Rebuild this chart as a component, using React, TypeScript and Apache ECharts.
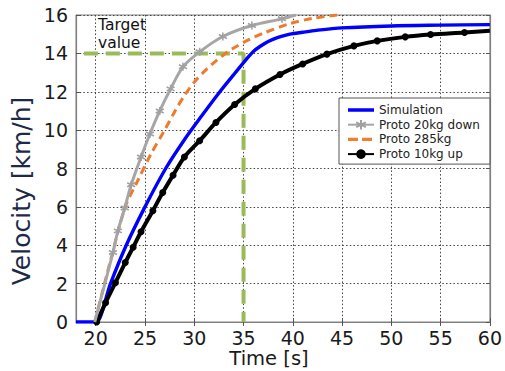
import React, { useEffect, useRef } from "react";
import * as echarts from "echarts";

// ---- data ----
const xTicks = [20, 25, 30, 35, 40, 45, 50, 55, 60];
const yTicks = [0, 2, 4, 6, 8, 10, 12, 14, 16];

const simT = [18, 20, 20.1, 21.5, 23.1, 25, 27.1, 29, 30.55, 32.6, 34.1, 35.3, 36.0, 36.7, 37.5, 38.5, 39.7, 41, 42.4, 45, 50, 55, 60];
const simV = [0, 0, 0, 2, 4, 6, 8, 9.5, 10.6, 12, 12.95, 13.7, 14.1, 14.37, 14.62, 14.83, 15.0, 15.1, 15.2, 15.33, 15.43, 15.47, 15.5];

const grayT = [19.9, 21.75, 22.25, 22.94, 23.6, 24.6, 25.5, 26.5, 27.6, 28.85, 30.55, 32.9, 35.85, 38.9, 40.3];
const grayV = [0, 3.62, 4.75, 5.94, 7.15, 8.6, 9.8, 11.0, 12.15, 13.3, 14.08, 14.88, 15.45, 15.8, 16];

const orangeT = [19.9, 21.4, 23.0, 24.3, 25.6, 27, 28, 29, 30, 31, 32, 33, 34, 35.5, 37, 39.7, 42, 44.5];
const orangeV = [0, 3, 6, 7.4, 8.75, 10, 10.95, 11.8, 12.5, 13.05, 13.52, 13.93, 14.28, 14.7, 15.05, 15.55, 15.82, 16];

const blackT = [20.1, 21, 22, 23, 23.8, 24.6, 25.8, 26.8, 27.85, 29.0, 30.55, 32.2, 34.1, 36.2, 38.7, 41.0, 43.46, 46.2, 48.57, 51.41, 53.98, 57.42, 60];
const blackV = [0, 1.0, 2.05, 3.1, 3.9, 4.7, 5.8, 6.75, 7.65, 8.6, 9.45, 10.4, 11.34, 12.15, 12.9, 13.45, 13.96, 14.39, 14.65, 14.86, 14.98, 15.09, 15.18];

const targetT = [18.8, 35, 35];
const targetV = [14, 14, 0];

const names = ["Simulation", "Proto 20kg down", "Proto 285kg", "Proto 10kg up"];

const FONT = "DejaVu Sans";

const pairs = (t: number[], v: number[], hideEnds = false, hideLast = false) =>
  t.map((x, i) => {
    const item: any = { value: [x, v[i]] };
    if ((hideEnds && (i === 0 || i === t.length - 1)) || (hideLast && i === t.length - 1)) item.symbol = "none";
    return item;
  });

const STAR = "path://M4,0L4,8M0.5,2L7.5,6M7.5,2L0.5,6";
// legend icons: tiny corner dots keep the bounding box at 26x12
const CORNERS = "M0,0h0.01v0.01h-0.01zM26,12h-0.01v-0.01h0.01z";
const SOLID_ICON = "path://" + CORNERS + "M0,4.3h26v3.4h-26z";
const DASH_ICON = "path://" + CORNERS + "M0,4.4h10v3.2h-10zM14,4.4h10v3.2h-10z";

export default function App() {
  const ref = useRef<HTMLDivElement>(null);
  useEffect(() => {
    const chart = echarts.init(ref.current!, null, { renderer: "svg" });
    const gridLine = { show: true, lineStyle: { color: "#444", type: [1.5, 2.2], width: 1 } };
    chart.setOption({
      animation: false,
      backgroundColor: "#fff",
      grid: { left: 76, right: 15, top: 15, bottom: 49, show: true, borderColor: "#808080", borderWidth: 1, backgroundColor: "transparent" },
      xAxis: [
        {
          type: "value",
          min: 18,
          max: 60,
          axisLine: { show: true, lineStyle: { color: "#808080", width: 1.2 } },
          axisTick: { show: true, inside: true, length: 4, customValues: xTicks, lineStyle: { color: "#555" } },
          axisLabel: { customValues: xTicks, fontFamily: FONT, fontSize: 19, color: "#1a1a1a", margin: 6 },
          splitLine: gridLine,
        },
        {
          type: "value",
          position: "top",
          min: 18,
          max: 60,
          axisLine: { show: true, lineStyle: { color: "#808080", width: 1.2 } },
          axisTick: { show: true, inside: true, length: 4, customValues: xTicks, lineStyle: { color: "#555" } },
          axisLabel: { show: false, customValues: xTicks },
          splitLine: { show: false },
        },
      ],
      yAxis: [
        {
          type: "value",
          min: yTicks[0],
          max: yTicks[yTicks.length - 1],
          interval: 2,
          axisLine: { show: true, lineStyle: { color: "#808080", width: 1.2 } },
          axisTick: { show: true, inside: true, length: 4, lineStyle: { color: "#555" } },
          axisLabel: { fontFamily: FONT, fontSize: 19, color: "#1a1a1a", margin: 8 },
          splitLine: gridLine,
        },
        {
          type: "value",
          position: "right",
          min: yTicks[0],
          max: yTicks[yTicks.length - 1],
          interval: 2,
          axisLine: { show: true, lineStyle: { color: "#808080", width: 1.2 } },
          axisTick: { show: true, inside: true, length: 4, lineStyle: { color: "#555" } },
          axisLabel: { show: false },
          splitLine: { show: false },
        },
      ],
      legend: {
        data: [
          { name: names[0], icon: SOLID_ICON },
          { name: names[1] },
          { name: names[2], icon: DASH_ICON },
          { name: names[3] },
        ],
        orient: "vertical",
        left: 339,
        top: 98,
        itemWidth: 26,
        itemHeight: 12,
        itemGap: 2.7,
        padding: [6, 10, 4, 8],
        backgroundColor: "#fff",
        borderColor: "#555",
        borderWidth: 1,
        textStyle: { fontFamily: FONT, fontSize: 12, color: "#222" },
      },
      graphic: [
        {
          type: "text",
          left: 98,
          top: 16,
          silent: true,
          z: 100,
          style: { text: "Target\nvalue", fontFamily: FONT, fontSize: 15.5, lineHeight: 18, fill: "#111" },
        },
        {
          type: "text",
          x: 269,
          y: 358,
          silent: true,
          style: { text: "Time [s]", fontFamily: FONT, fontSize: 19.5, fill: "#1a1a1a", align: "center", verticalAlign: "middle" },
        },
        {
          type: "text",
          x: 21,
          y: 191,
          rotation: Math.PI / 2,
          silent: true,
          style: { text: "Velocity [km/h]", fontFamily: FONT, fontSize: 25, fill: "#1c2a48", align: "center", verticalAlign: "middle" },
        },
      ],
      series: [
        {
          name: "Target",
          type: "line",
          data: pairs(targetT, targetV),
          symbol: "none",
          silent: true,
          lineStyle: { color: "#9BBB59", width: 4, type: [14, 8] },
          z: 1,
        },
        {
          name: "Simulation",
          type: "line",
          data: pairs(simT, simV),
          symbol: "none",
          smooth: 0.3,
          color: "#0000FF",
          lineStyle: { color: "#0000FF", width: 3.4 },
          z: 3,
        },
        {
          name: "Proto 20kg down",
          type: "line",
          data: pairs(grayT, grayV, true),
          symbol: STAR,
          symbolSize: 8,
          smooth: 0.3,
          color: "#A6A6A6",
          itemStyle: { color: "#A6A6A6", borderColor: "#A0A0A0", borderWidth: 1.6 },
          lineStyle: { color: "#A6A6A6", width: 3 },
          z: 4,
        },
        {
          name: "Proto 285kg",
          type: "line",
          data: pairs(orangeT, orangeV),
          symbol: "none",
          smooth: 0.3,
          color: "#F08030",
          lineStyle: { color: "#EE7A2E", width: 3, type: [8, 5] },
          z: 3,
        },
        {
          name: "Proto 10kg up",
          type: "line",
          data: pairs(blackT, blackV, false, true),
          symbol: "circle",
          symbolSize: 7,
          smooth: 0.3,
          color: "#000",
          itemStyle: { color: "#000" },
          lineStyle: { color: "#000", width: 4 },
          z: 3,
        },
      ],
    });
    return () => chart.dispose();
  }, []);
  return <div ref={ref} style={{ position: "absolute", left: 0, top: 0, width: 505, height: 371 }} />;
}
